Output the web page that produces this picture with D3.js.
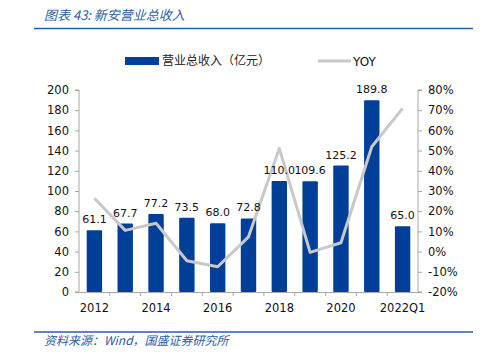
<!DOCTYPE html>
<html><head><meta charset="utf-8">
<script src="https://cdn.jsdelivr.net/npm/d3@7"></script>
<style>body{margin:0;background:#fff}svg{display:block}</style>
</head><body>
<svg id="c" width="486" height="356"></svg>
<script>
const categories = ["2012","2013","2014","2015","2016","2017","2018","2019","2020","2021","2022Q1"];
const tickLabels = ["2012","","2014","","2016","","2018","","2020","","2022Q1"];
const revenue = [61.1,67.7,77.2,73.5,68.0,72.8,110.0,109.6,125.2,189.8,65.0];
const yoy = [26.4,10.5,14.0,-4.5,-7.5,7.3,51.1,-0.4,4.4,51.9,70.9];
const leftTicks = [0,20,40,60,80,100,120,140,160,180,200];
const rightTicks = [-20,-10,0,10,20,30,40,50,60,70,80];

const svg = d3.select("#c");
const L=79, R=418, T=90, B=292;
const x = d3.scaleBand().domain(categories).range([L,R]).paddingInner(0.5).paddingOuter(0.25);
const xb = d3.scaleBand().domain(categories).range([L,R]);
const y = d3.scaleLinear().domain([0,200]).range([B,T]);
const y2 = d3.scaleLinear().domain([-20,80]).range([B,T]);
const blue="#2a5caa", bar="#003f98", gray="#a6a6a6", font="'DejaVu Sans', Verdana, sans-serif";

// title & rules
svg.append("text").attr("x",44).attr("y",20).attr("fill",blue).attr("font-size",13).attr("font-style","italic")
  .attr("font-family","'Noto Sans CJK SC', sans-serif").text("图表 43:  新安营业总收入");
svg.append("line").attr("x1",34).attr("x2",473).attr("y1",28.5).attr("y2",28.5).attr("stroke",blue).attr("stroke-width",1.5);
svg.append("line").attr("x1",34).attr("x2",473).attr("y1",332).attr("y2",332).attr("stroke",blue).attr("stroke-width",1.5);
svg.append("text").attr("x",44).attr("y",345).attr("fill",blue).attr("font-size",12).attr("font-style","italic")
  .attr("font-family","'Noto Sans CJK SC', sans-serif").text("资料来源：Wind，国盛证券研究所");

// legend
svg.append("rect").attr("x",125).attr("y",57).attr("width",34).attr("height",8).attr("fill",bar);
svg.append("text").attr("x",162).attr("y",65).attr("font-size",12).attr("fill","#222").attr("font-family","'Noto Sans CJK SC', sans-serif").text("营业总收入（亿元）");
svg.append("line").attr("x1",318).attr("x2",351).attr("y1",61).attr("y2",61).attr("stroke","#c8c8c8").attr("stroke-width",3);
svg.append("text").attr("x",353).attr("y",65.5).attr("font-size",12).attr("fill","#111").attr("font-family",font).text("YOY");

// bars
svg.append("g").selectAll("rect").data(revenue).join("rect")
  .attr("x",(d,i)=>x(categories[i])).attr("width",x.bandwidth())
  .attr("y",d=>y(d)).attr("height",d=>B-y(d)).attr("fill",bar).attr("rx",1);

// axes
const gl = svg.append("g").attr("transform",`translate(${L},0)`)
  .call(d3.axisLeft(y).tickValues(leftTicks).tickSize(4).tickPadding(6));
const gr = svg.append("g").attr("transform",`translate(${R},0)`)
  .call(d3.axisRight(y2).tickValues(rightTicks).tickSize(4).tickPadding(6).tickFormat(d=>d+"%"));
const gx = svg.append("g").attr("transform",`translate(0,${B})`)
  .call(d3.axisBottom(xb).tickSize(0).tickPadding(12).tickFormat((d,i)=>tickLabels[i]));
// boundary ticks
svg.append("g").selectAll("line").data(categories.slice(1)).join("line")
  .attr("x1",d=>xb(d)).attr("x2",d=>xb(d)).attr("y1",B).attr("y2",B+4).attr("stroke",gray);
[gl,gr,gx].forEach(g=>{
  g.selectAll("path").attr("stroke",gray);
  g.selectAll("line").attr("stroke",gray);
  g.selectAll("text").attr("font-size",11.5).attr("fill","#111").attr("font-family",font);
});
gl.select(".domain").attr("d",`M-4,${T}H0V${B}H-4`);
gr.select(".domain").attr("d",`M4,${T}H0V${B}H4`);

// line
const line = d3.line().x((d,i)=>xb(categories[i])+xb.bandwidth()/2).y(d=>y2(d));
svg.append("path").datum(yoy).attr("d",line).attr("fill","none").attr("stroke","#c8c8c8").attr("stroke-width",3).attr("stroke-linejoin","round");

// labels
svg.append("g").selectAll("text").data(revenue).join("text")
  .attr("x",(d,i)=>xb(categories[i])+xb.bandwidth()/2).attr("y",d=>y(d)-7)
  .attr("text-anchor","middle").attr("font-size",11).attr("fill","#111").attr("font-family",font)
  .text(d=>d.toFixed(1));
</script>
</body></html>
